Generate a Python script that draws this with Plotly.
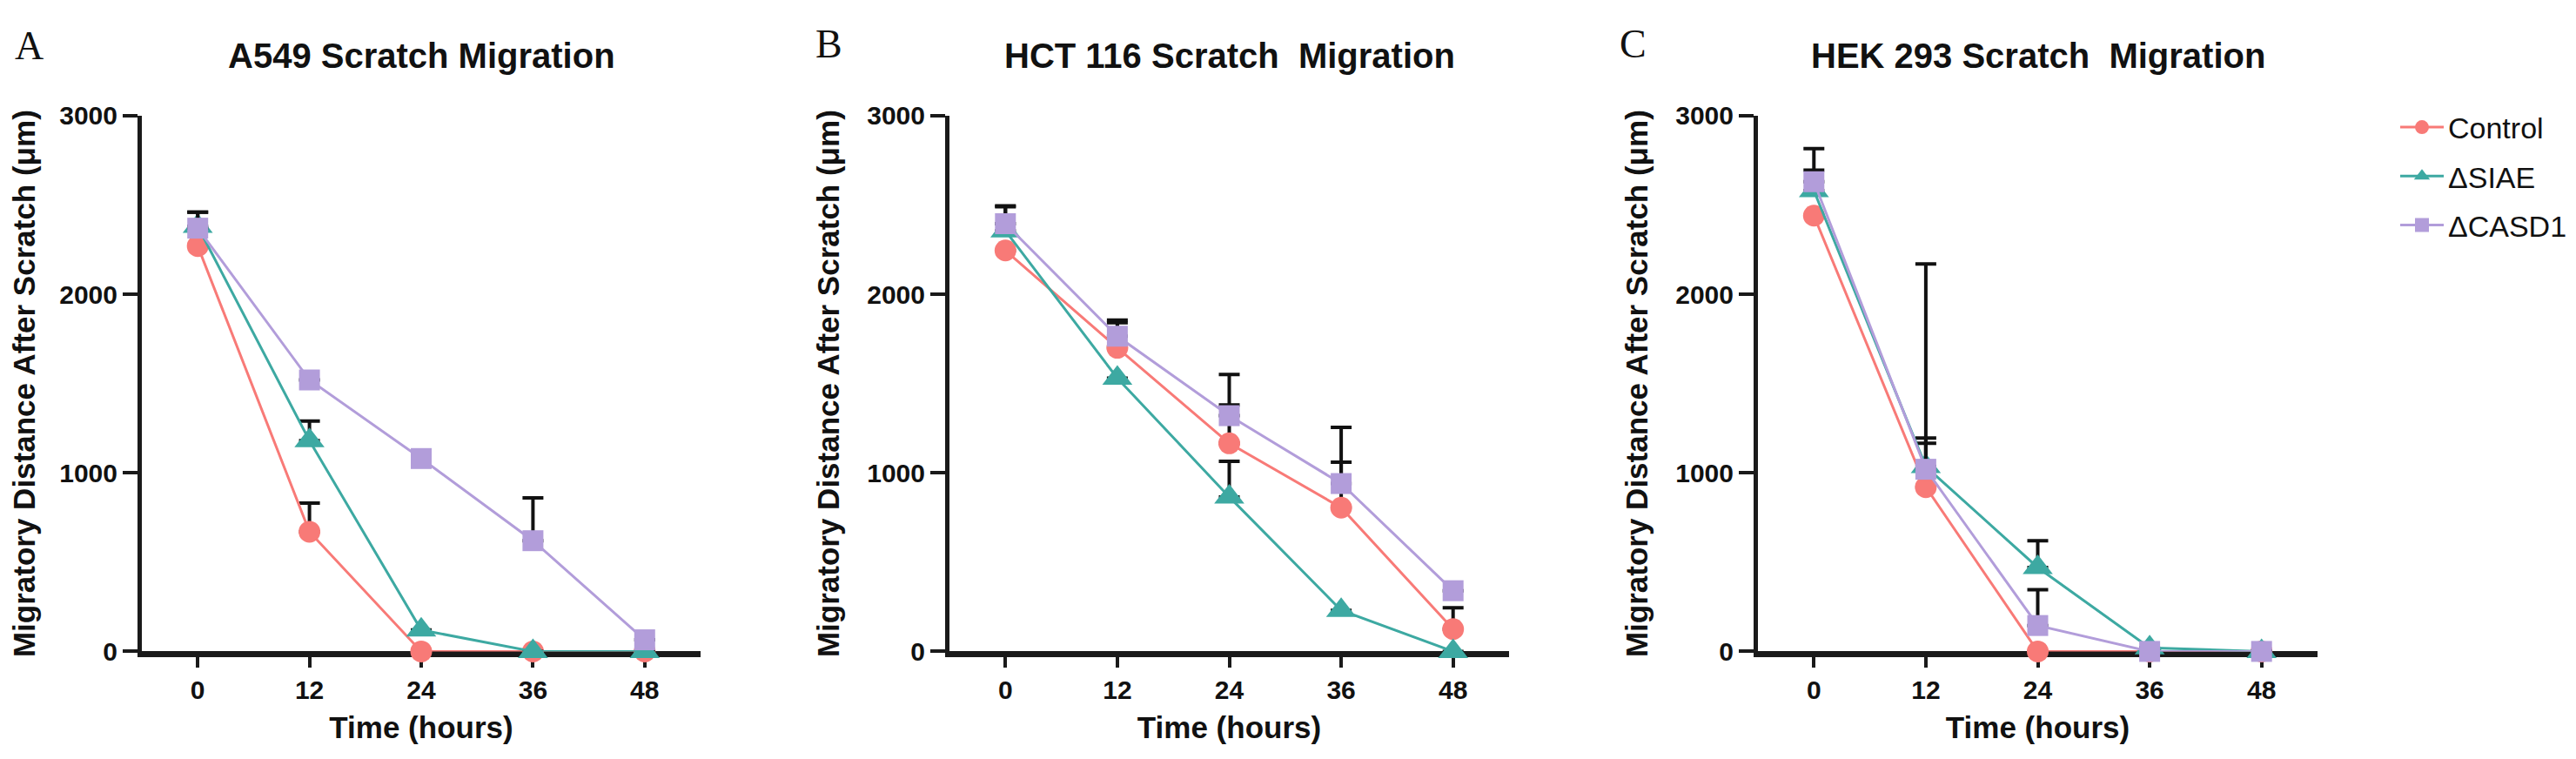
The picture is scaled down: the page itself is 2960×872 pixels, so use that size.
import plotly.graph_objects as go

# ---------------- data ----------------
time_hours = [0, 12, 24, 36, 48]
x_tick_labels = ["0", "12", "24", "36", "48"]
y_tick_values = [0, 1000, 2000, 3000]
series_names = ["Control", "ΔSIAE", "ΔCASD1"]

panel_titles = ["A549 Scratch Migration", "HCT 116 Scratch\u00a0 Migration", "HEK 293 Scratch\u00a0 Migration"]
panel_letters = ["A", "B", "C"]

# A549
a549_control = [2270, 670, 0, 0, 0]
a549_control_sd = [0, 160, 0, 0, 0]
a549_siae = [2380, 1180, 120, 0, 0]
a549_siae_sd = [80, 110, 0, 0, 0]
a549_casd1 = [2370, 1520, 1080, 620, 65]
a549_casd1_sd = [90, 0, 0, 240, 0]

# HCT 116
hct_control = [2245, 1700, 1165, 805, 125]
hct_control_sd = [0, 140, 215, 255, 120]
hct_siae = [2355, 1530, 865, 230, 0]
hct_siae_sd = [135, 0, 200, 0, 0]
hct_casd1 = [2395, 1765, 1320, 940, 340]
hct_casd1_sd = [100, 90, 230, 315, 0]

# HEK 293
hek_control = [2440, 920, 0, 0, 0]
hek_control_sd = [0, 245, 0, 0, 0]
hek_siae = [2580, 1035, 470, 20, 0]
hek_siae_sd = [235, 160, 150, 0, 0]
hek_casd1 = [2630, 1020, 145, 0, 0]
hek_casd1_sd = [65, 1150, 200, 0, 0]

panels = [
    [(a549_control, a549_control_sd), (a549_siae, a549_siae_sd), (a549_casd1, a549_casd1_sd)],
    [(hct_control, hct_control_sd), (hct_siae, hct_siae_sd), (hct_casd1, hct_casd1_sd)],
    [(hek_control, hek_control_sd), (hek_siae, hek_siae_sd), (hek_casd1, hek_casd1_sd)],
]

# ---------------- style ----------------
W, H = 2960, 872
colors = ["#F87A77", "#3DA9A2", "#B29DDA"]
symbols = ["circle", "triangle-up", "square"]
sizes = [25, 30, 24]
FONT = "Liberation Sans"
AXC = "#1a1a1a"

x_dom_px = [(155, 797), (1083, 1726), (2012, 2655)]
y_top_px, y_bot_px = 113, 752
y_domain = [(H - y_bot_px) / H, (H - y_top_px) / H]

fig = go.Figure()

for p, series in enumerate(panels):
    xa = "x" if p == 0 else f"x{p+1}"
    ya = "y" if p == 0 else f"y{p+1}"
    for s, (vals, sd) in enumerate(series):
        fig.add_trace(go.Scatter(
            x=time_hours, y=vals, xaxis=xa, yaxis=ya,
            mode="lines+markers",
            name=series_names[s], legendgroup=series_names[s],
            showlegend=(p == 2),
            line=dict(color=colors[s], width=3),
            marker=dict(color=colors[s], symbol=symbols[s], size=sizes[s], line=dict(width=0)),
            error_y=dict(type="data", symmetric=False, array=sd, arrayminus=[0] * len(sd),
                         color="#111111", thickness=4, width=12),
            cliponaxis=False,
        ))

layout_axes = {}
for p in range(3):
    k = "" if p == 0 else str(p + 1)
    x0, x1 = x_dom_px[p]
    layout_axes[f"xaxis{k}"] = dict(
        domain=[x0 / W, x1 / W], range=[-6, 54], anchor=f"y{k}",
        tickvals=time_hours, ticktext=x_tick_labels,
        ticks="outside", ticklen=12, tickwidth=4, tickcolor=AXC,
        showline=True, linewidth=7, linecolor=AXC,
        showgrid=False, zeroline=False, layer="below traces",
        tickfont=dict(family=FONT, size=30, color="#111", weight="bold"),
        title=dict(text="Time (hours)", font=dict(family=FONT, size=35, color="#111", weight="bold"), standoff=18),
        fixedrange=True,
    )
    layout_axes[f"yaxis{k}"] = dict(
        domain=y_domain, range=[0, 3000], anchor=f"x{k}",
        tickvals=y_tick_values,
        ticks="outside", ticklen=17, tickwidth=4, tickcolor=AXC,
        showline=True, linewidth=5, linecolor=AXC,
        showgrid=False, zeroline=False, layer="below traces",
        tickfont=dict(family=FONT, size=30, color="#111", weight="bold"),
        title=dict(text="Migratory Distance After Scratch (μm)", font=dict(family=FONT, size=35, color="#111", weight="bold"), standoff=22),
        fixedrange=True,
    )

annotations = []
for p in range(3):
    x0, x1 = x_dom_px[p]
    annotations.append(dict(
        text=panel_titles[p], xref="paper", yref="paper",
        x=(x0 + x1) / 2 / W, y=(H - 42) / H, xanchor="center", yanchor="middle",
        showarrow=False, font=dict(family=FONT, size=40, color="#111", weight="bold"),
    ))
letter_pos = [(25, 30), (944, 28), (1868, 28)]
for p in range(3):
    lx, ly = letter_pos[p]
    annotations.append(dict(
        text=panel_letters[p], xref="paper", yref="paper",
        x=lx / W, y=(H - ly) / H, xanchor="center", yanchor="middle",
        showarrow=False, font=dict(family="Liberation Serif", size=46, color="#111"),
    ))

fig.update_layout(
    width=W, height=H,
    margin=dict(l=0, r=0, t=0, b=0),
    paper_bgcolor="white", plot_bgcolor="white",
    showlegend=True,
    legend=dict(
        x=2745 / W, y=(H - 97) / H, xanchor="left", yanchor="top",
        font=dict(family=FONT, size=34, color="#111"),
        bgcolor="rgba(0,0,0,0)", borderwidth=0,
        itemwidth=50, tracegroupgap=9, itemsizing="trace",
    ),
    annotations=annotations,
    **layout_axes,
)

fig.write_html("out.html")
